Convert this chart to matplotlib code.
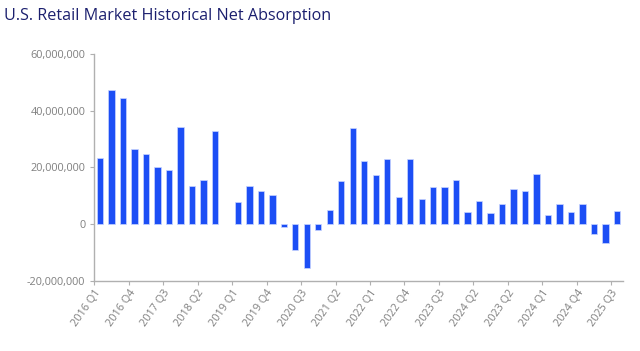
import matplotlib.pyplot as plt
from matplotlib.ticker import FuncFormatter

# quarter labels: first series runs 2016 Q1 - 2024 Q4, second restarts at 2023 Q2
quarters_a = [f"{y} Q{q}" for y in range(2016, 2025) for q in range(1, 5)]
quarters_b = ["2023 Q2", "2023 Q3", "2023 Q4", "2024 Q1", "2024 Q2",
              "2024 Q3", "2024 Q4", "2025 Q1", "2025 Q2", "2025 Q3"]
labels = quarters_a + quarters_b

# net absorption, sq ft (2018 Q4 has no value)
absorption = [
    23.4e6, 47.2e6, 44.5e6, 26.3e6, 24.8e6, 20.0e6, 19.1e6, 34.1e6,
    13.5e6, 15.7e6, 32.8e6, float('nan'), 7.8e6, 13.5e6, 11.6e6, 10.2e6,
    -1.1e6, -9.3e6, -15.5e6, -2.0e6, 5.0e6, 15.2e6, 33.9e6, 22.3e6,
    17.4e6, 23.1e6, 9.6e6, 23.1e6, 8.8e6, 12.9e6, 13.2e6, 15.4e6,
    4.2e6, 8.0e6, 4.0e6, 6.9e6,
    12.3e6, 11.7e6, 17.6e6, 3.1e6, 7.2e6, 4.3e6, 6.9e6, -3.4e6, -6.6e6, 4.6e6,
]

plt.rcParams['font.family'] = ['Open Sans', 'DejaVu Sans']

fig = plt.figure(figsize=(6.4, 3.51), dpi=100)
ax = fig.add_axes([94.3 / 640, 1 - 280.7 / 351, (622.7 - 94.3) / 640, (280.7 - 54) / 351])

x = list(range(len(absorption)))
ax.bar(x, absorption, width=0.55, color='#1c4ef5', edgecolor='#c8d4ff', linewidth=0.5)

ax.set_xlim(-0.5, len(absorption) - 0.5)
ax.set_ylim(-20e6, 60e6)
ax.set_yticks([-20e6, 0, 20e6, 40e6, 60e6])
ax.yaxis.set_major_formatter(FuncFormatter(lambda v, p: f"{int(v):,}"))

tick_idx = list(range(0, len(labels), 3))
ax.set_xticks([i - 0.5 for i in tick_idx])
ax.set_xticklabels([labels[i] for i in tick_idx], rotation=55, ha='right',
                   rotation_mode='anchor')

for s in ['top', 'right']:
    ax.spines[s].set_visible(False)
for s in ['left', 'bottom']:
    ax.spines[s].set_color('#b0b0b0')
    ax.spines[s].set_linewidth(1.0)
ax.tick_params(colors='#b0b0b0', labelcolor='#7f7f7f', labelsize=7.8, length=3, width=0.8)
ax.tick_params(axis='x', pad=2)

fig.text(4 / 640, 1 - 16 / 351, "U.S. Retail Market Historical Net Absorption",
         fontsize=11.6, color='#1b1f6e', va='center', ha='left')

fig.savefig('out.png', dpi=100)
